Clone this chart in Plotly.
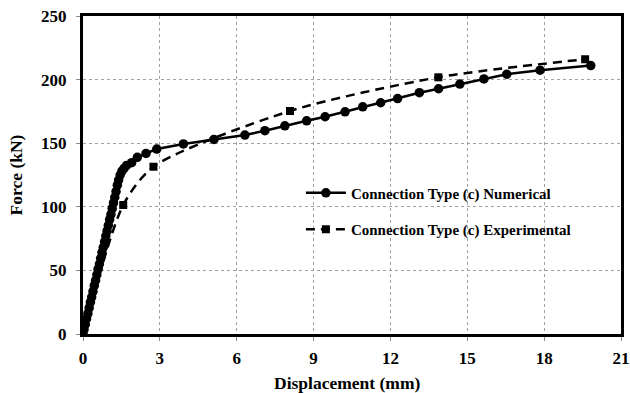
import plotly.graph_objects as go

# Connection type (c): numerical model output (displacement in mm, force in kN)
num_disp = [0, 0.04, 0.09, 0.14, 0.19, 0.24, 0.29, 0.34, 0.39, 0.44, 0.49, 0.54,
            0.59, 0.64, 0.69, 0.74, 0.79, 0.84, 0.89, 0.94, 0.99, 1.04, 1.09, 1.14,
            1.19, 1.24, 1.29, 1.34, 1.39, 1.45, 1.52, 1.60, 1.70, 1.90, 2.12, 2.46,
            2.88, 3.92, 5.11, 6.32, 7.10, 7.88, 8.73, 9.45, 10.23, 10.92, 11.62,
            12.28, 13.13, 13.88, 14.71, 15.65, 16.54, 17.84, 19.82]
num_force = [0, 3.5, 7.5, 12, 16, 20.5, 25, 29, 33.5, 38, 42, 46.5,
             51, 55, 59.5, 64, 68, 72.5, 77, 81, 85.5, 90, 94, 98.5,
             103, 107.5, 112, 117, 121, 125, 128, 130.2, 132.5, 134.7, 138.9, 142,
             145.4, 149.4, 153, 156.4, 159.8, 163.7, 167.6, 170.8, 174.7, 178.6, 181.8,
             185.1, 189.7, 192.8, 196.5, 200.5, 204.2, 207.4, 211]

# Connection type (c): test measurements
exp_disp = [0, 1.57, 2.75, 8.08, 13.87, 19.6]
exp_force = [0, 101.4, 131.5, 175.3, 201.8, 216]

x_ticks = [0, 3, 6, 9, 12, 15, 18, 21]
y_ticks = [0, 50, 100, 150, 200, 250]

SERIF = "Liberation Serif"
title_font = dict(family=SERIF, size=17.5, color="black", weight="bold")

fig = go.Figure()
fig.add_trace(go.Scatter(
    x=num_disp, y=num_force, mode="lines+markers",
    name="Connection Type (c) Numerical", legendgroup="a",
    line=dict(color="black", width=2.5),
    marker=dict(symbol="circle", size=9.5, color="black"),
))
fig.add_trace(go.Scatter(
    x=exp_disp, y=exp_force, mode="lines+markers",
    name="Connection Type (c) Experimental", legendgroup="b",
    line=dict(color="black", width=2.5, dash="9px,6px", shape="spline", smoothing=0.75),
    marker=dict(symbol="square", size=8, color="black"),
))

axis_common = dict(
    showline=True, linecolor="black", linewidth=3, mirror=True,
    showgrid=True, gridcolor="#a0a0a0", gridwidth=1, griddash="dot",
    ticks="outside", ticklen=4, tickcolor="#888", zeroline=False,
    tickfont=dict(family=SERIF, size=17, color="black", weight="bold"),
)

fig.update_xaxes(range=[0, 21], tickvals=x_ticks, ticklabelstandoff=3, **axis_common)
fig.update_yaxes(range=[0, 250], tickvals=y_ticks, ticklabelstandoff=6,
                 title=dict(text="Force (kN)", standoff=14, font=title_font),
                 **axis_common)

# x-axis title placed low in the bottom margin
fig.add_annotation(text="Displacement (mm)", xref="paper", yref="paper",
                   x=0.49, y=-0.153, xanchor="center", yanchor="middle",
                   showarrow=False, font=title_font)

fig.update_layout(
    width=630, height=393,
    margin=dict(l=83, r=9, t=16, b=59, autoexpand=False),
    paper_bgcolor="white", plot_bgcolor="white",
    showlegend=True,
    legend=dict(x=0.405, y=0.495, xanchor="left", yanchor="top",
                bgcolor="rgba(0,0,0,0)", borderwidth=0,
                traceorder="grouped", tracegroupgap=14, itemwidth=40,
                font=dict(family=SERIF, size=15, color="black", weight="bold")),
)

fig.write_html("out.html")
